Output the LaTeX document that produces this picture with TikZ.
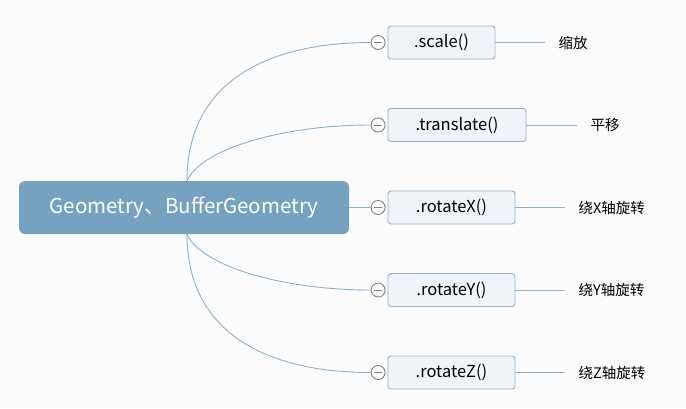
\documentclass[tikz,border=0pt]{standalone}
\usepackage{fontspec}
\setmainfont{Noto Sans CJK SC}
\usetikzlibrary{positioning}
\definecolor{rootblue}{HTML}{76A2C2}
\definecolor{linkblue}{HTML}{8DB0C9}
\definecolor{boxedge}{HTML}{94B4CC}
\definecolor{boxfill}{HTML}{EEF4F8}
\tikzset{
  root/.style={draw=none,fill=rootblue,rounded corners=6pt,text=white,
    minimum width=330pt,minimum height=53pt,font=\fontsize{20.5}{24}\selectfont},
  method/.style={draw=boxedge,fill=boxfill,rounded corners=3pt,line width=0.9pt,
    minimum height=33pt,font=\fontsize{16.5}{20}\selectfont},
  fold/.style={circle,draw=gray,fill=white,line width=0.9pt,minimum size=14pt,inner sep=0pt},
  note/.style={anchor=west,inner sep=0pt,font=\fontsize{14.5}{17}\selectfont},
  link/.style={draw=linkblue,line width=0.9pt}
}
\begin{document}
\begin{tikzpicture}[x=1pt,y=-1pt]
\useasboundingbox[fill=white!98!gray] (0,0) rectangle (686,408);
\node[root] (geo) at (184,207.5) {Geometry、BufferGeometry};
\coordinate (top) at (187,181);
\coordinate (bot) at (187,234);
% child methods
\node[method,minimum width=107pt] (scale) at (441.5,42.5) {.scale()};
\node[method,minimum width=138pt] (translate) at (457,125) {.translate()};
\node[method,minimum width=127pt] (rotx) at (451.5,207.5) {.rotateX()};
\node[method,minimum width=127pt] (roty) at (451.5,290) {.rotateY()};
\node[method,minimum width=127pt] (rotz) at (451.5,372.5) {.rotateZ()};
\foreach \m in {scale,translate,rotx,roty,rotz}
  \node[fold,left=2pt of \m.west] (c\m) {};
% links
\draw[link] (top) .. controls (187,80) and (270,42.5) .. (cscale.west);
\draw[link] (top) .. controls (200,150) and (280,125) .. (ctranslate.west);
\draw[link] (geo.east) -- (crotx.west);
\draw[link] (bot) .. controls (200,265) and (280,290) .. (croty.west);
\draw[link] (bot) .. controls (187,335) and (270,372.5) .. (crotz.west);
\foreach \m in {scale,translate,rotx,roty,rotz}
  \draw[gray,line width=0.9pt] ([xshift=-4pt]c\m.center) -- ([xshift=4pt]c\m.center);
% notes
\coordinate[right=50pt of scale.east] (escale);
\coordinate[right=51pt of translate.east] (etranslate);
\coordinate[right=50pt of rotx.east] (erotx);
\coordinate[right=50pt of roty.east] (eroty);
\coordinate[right=50pt of rotz.east] (erotz);
\foreach \m in {scale,translate,rotx,roty,rotz}
  \draw[link] (\m.east) -- (e\m);
\node[note,right=13pt of escale] (nscale) {缩放};
\node[note,right=13pt of etranslate] (ntranslate) {平移};
\node[note,right=13pt of erotx] (nrotx) {绕X轴旋转};
\node[note,right=13pt of eroty] (nroty) {绕Y轴旋转};
\node[note,right=13pt of erotz] (nrotz) {绕Z轴旋转};
\end{tikzpicture}
\end{document}
